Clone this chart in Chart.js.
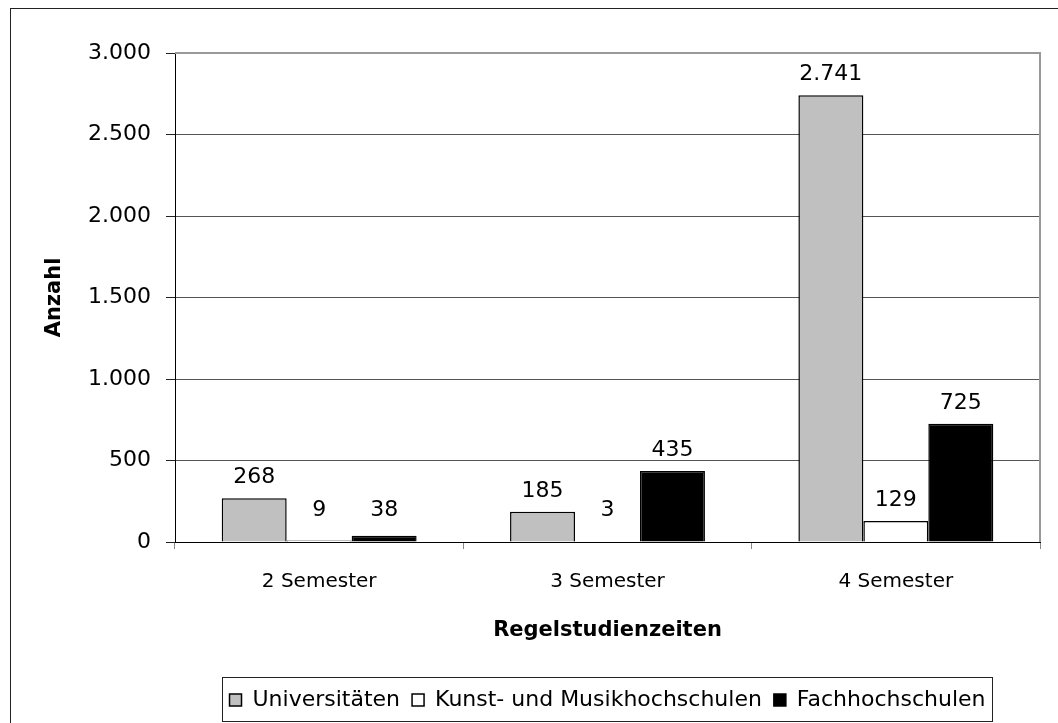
<!DOCTYPE html>
<html lang="de">
<head>
<meta charset="UTF-8">
<title>Regelstudienzeiten</title>
<script src="https://cdn.jsdelivr.net/npm/chart.js"></script>
<style>
    html, body { margin: 0; padding: 0; background: #fff; }
    #wrap { width: 1058px; height: 723px; position: relative; }
</style>
</head>
<body>
<div id="wrap"><canvas id="chart" width="1058" height="723"></canvas></div>
<script>
    // data
    const categories = ['2 Semester', '3 Semester', '4 Semester'];
    const universitaeten = [268, 185, 2741];
    const kunstMusik = [9, 3, 129];
    const fachhochschulen = [38, 435, 725];
    const yMax = 3000;
    const yStep = 500;

    const FONT = "'DejaVu Sans', sans-serif";

    // 2741 -> "2.741"
    function fmt(v) {
        return String(v).replace(/\B(?=(\d{3})+(?!\d))/g, '.');
    }

    // outer frame, grey plot border, box around legend
    const framePlugin = {
        id: 'frame',
        afterLayout(chart) {
            // center the legend under the plot area instead of the canvas
            const lg = chart.legend;
            lg.left = chart.chartArea.left;
            lg.right = chart.chartArea.right;
            lg.width = lg.right - lg.left;
            lg.adjustHitBoxes();
        },
        beforeDraw(chart) {
            const ctx = chart.ctx;
            ctx.save();
            ctx.fillStyle = '#fff';
            ctx.fillRect(0, 0, chart.width, chart.height);
            ctx.strokeStyle = '#222';
            ctx.lineWidth = 1;
            ctx.strokeRect(10.5, 8.5, 1100, 800);
            ctx.restore();
        },
        beforeDatasetsDraw(chart) {
            const a = chart.chartArea;
            const ctx = chart.ctx;
            ctx.save();
            ctx.strokeStyle = '#999';
            ctx.lineWidth = 2;
            ctx.beginPath();
            ctx.moveTo(a.left, a.top);
            ctx.lineTo(a.right, a.top);
            ctx.lineTo(a.right, a.bottom);
            ctx.stroke();
            ctx.restore();
        },
        afterDraw(chart) {
            const lg = chart.legend;
            const boxes = lg.legendHitBoxes;
            if (!boxes || !boxes.length) return;
            let l = Infinity, r = -Infinity;
            boxes.forEach(h => {
                l = Math.min(l, h.left);
                r = Math.max(r, h.left + h.width);
            });
            const ctx = chart.ctx;
            ctx.save();
            ctx.strokeStyle = '#222';
            ctx.lineWidth = 1;
            ctx.strokeRect(Math.round(l - 8) + 0.5, Math.round(lg.top) + 0.5,
                Math.round(r - l + 14), Math.round(lg.bottom - lg.top));
            ctx.restore();
        }
    };

    // value labels above bars (tiny bars get a bit more room, like the original)
    const labelPlugin = {
        id: 'valueLabels',
        afterDatasetsDraw(chart) {
            const ctx = chart.ctx;
            ctx.save();
            ctx.font = '22px ' + FONT;
            ctx.fillStyle = '#000';
            ctx.textAlign = 'center';
            ctx.textBaseline = 'middle';
            chart.data.datasets.forEach((ds, i) => {
                chart.getDatasetMeta(i).data.forEach((bar, j) => {
                    const y = Math.min(bar.y - 21, bar.base - 31);
                    ctx.fillText(fmt(ds.data[j]), bar.x, y);
                });
            });
            ctx.restore();
        }
    };

    new Chart(document.getElementById('chart'), {
        type: 'bar',
        data: {
            labels: categories,
            datasets: [
                { label: 'Universitäten', data: universitaeten, backgroundColor: '#c0c0c0' },
                { label: 'Kunst- und Musikhochschulen', data: kunstMusik, backgroundColor: '#ffffff' },
                { label: 'Fachhochschulen', data: fachhochschulen, backgroundColor: '#000000' }
            ].map(d => Object.assign(d, {
                borderColor: '#000',
                borderWidth: 1.5,
                categoryPercentage: 0.676,
                barPercentage: 1.0
            }))
        },
        options: {
            responsive: false,
            animation: false,
            devicePixelRatio: 1,
            layout: { padding: { left: 30, top: 53, right: 18, bottom: 2 } },
            plugins: {
                tooltip: { enabled: false },
                legend: {
                    position: 'bottom',
                    labels: {
                        font: { family: FONT, size: 22 },
                        color: '#000',
                        boxWidth: 12,
                        boxHeight: 12,
                        padding: 12
                    }
                }
            },
            scales: {
                x: {
                    grid: {
                        offset: true,
                        drawOnChartArea: false,
                        tickLength: 7,
                        tickColor: '#888'
                    },
                    border: { color: '#000', width: 1 },
                    ticks: {
                        font: { family: FONT, size: 20 },
                        color: '#000',
                        padding: 21
                    },
                    title: {
                        display: true,
                        text: 'Regelstudienzeiten',
                        font: { family: FONT, size: 21, weight: 'bold' },
                        color: '#000',
                        padding: { top: 0, bottom: 34 }
                    },
                    afterFit(scale) { scale.height = 135; }
                },
                y: {
                    min: 0,
                    max: yMax,
                    grid: {
                        color: '#555',
                        tickLength: 9,
                        tickColor: '#222'
                    },
                    border: { color: '#000', width: 1 },
                    ticks: {
                        stepSize: yStep,
                        font: { family: FONT, size: 22 },
                        color: '#000',
                        padding: 15,
                        callback: v => fmt(v)
                    },
                    title: {
                        display: true,
                        text: 'Anzahl',
                        font: { family: FONT, size: 21, weight: 'bold' },
                        color: '#000',
                        padding: { top: 12, bottom: 0 }
                    },
                    afterFit(scale) { scale.width = 145; }
                }
            }
        },
        plugins: [framePlugin, labelPlugin]
    });
</script>
</body>
</html>
